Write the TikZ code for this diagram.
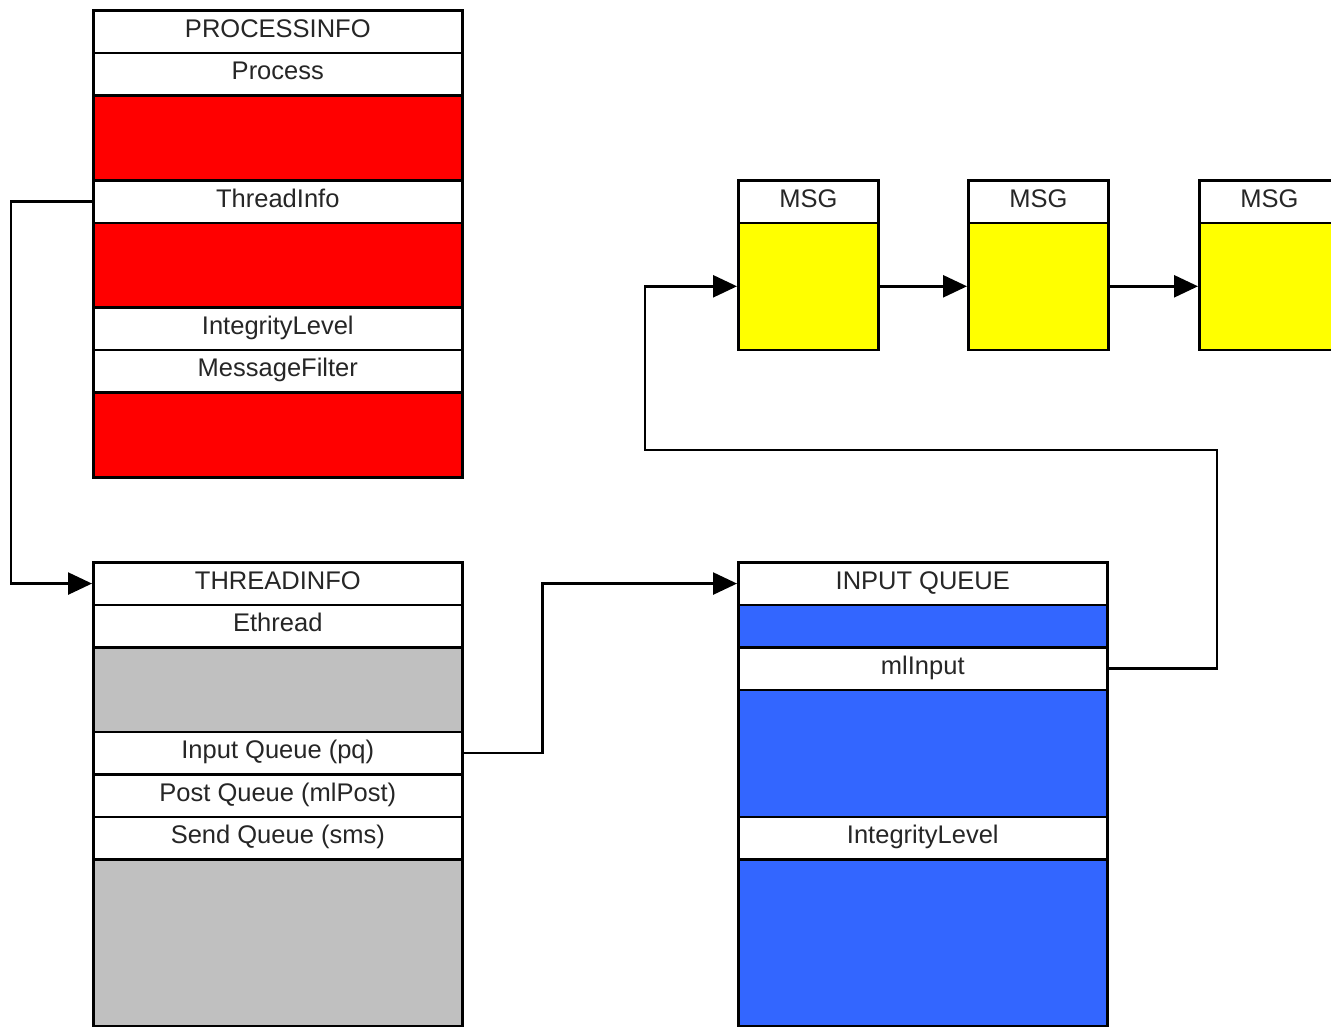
\documentclass[tikz,border=0pt]{standalone}
\usepackage{fontspec}
\setmainfont{Liberation Sans}
\usetikzlibrary{arrows.meta}
\definecolor{procred}{HTML}{FF0000}
\definecolor{thrgray}{HTML}{C0C0C0}
\definecolor{qblue}{HTML}{3366FF}
\definecolor{msgyellow}{HTML}{FFFF00}
\definecolor{txt}{HTML}{262626}
\begin{document}
\begin{tikzpicture}[x=1pt,y=-1pt,
  field/.style={draw=black, line width=2.6pt, fill=white, anchor=north west,
    inner sep=0pt, minimum width=#1, text=txt, text height=18pt, text depth=7pt,
    font=\fontsize{25.5}{30}\selectfont},
  field/.default=369pt,
  h1/.style={minimum height=42.5pt},
  link/.style={draw=black, line width=2.6pt},
  arr/.style={link, -{Triangle[length=24pt,width=22pt]}}
]
\clip (0,0) rectangle (1331,1026);
\fill[white] (0,0) rectangle (1331,1026);

% PROCESSINFO structure
\node[field, h1] (pi)  at (92,9)     {PROCESSINFO};
\node[field, h1] (pp)  at (92,51.5)  {Process};
\node[field, fill=procred, minimum height=85pt] (pr1) at (92,94) {};
\node[field, h1] (pti) at (92,179)   {ThreadInfo};
\node[field, fill=procred, minimum height=84.5pt] (pr2) at (92,221.5) {};
\node[field, h1] (pil) at (92,306)   {IntegrityLevel};
\node[field, h1] (pmf) at (92,348.5) {MessageFilter};
\node[field, fill=procred, minimum height=85pt] (pr3) at (92,391) {};

% THREADINFO structure
\node[field, h1] (th)  at (92,561)   {THREADINFO};
\node[field, h1] (te)  at (92,603.5) {Ethread};
\node[field, fill=thrgray, minimum height=84.5pt] (tg1) at (92,646) {};
\node[field, h1] (tpq) at (92,730.5) {Input Queue (pq)};
\node[field, h1] (tpo) at (92,773)   {Post Queue (mlPost)};
\node[field, h1] (tsq) at (92,815.5) {Send Queue (sms)};
\node[field, fill=thrgray, minimum height=167pt] (tg2) at (92,858) {};

% INPUT QUEUE structure
\node[field, h1] (iq)  at (737,561)   {INPUT QUEUE};
\node[field, fill=qblue, minimum height=42.5pt] (ib1) at (737,603.5) {};
\node[field, h1] (iml) at (737,646)   {mlInput};
\node[field, fill=qblue, minimum height=127pt] (ib2) at (737,688.5) {};
\node[field, h1] (iil) at (737,815.5) {IntegrityLevel};
\node[field, fill=qblue, minimum height=167pt] (ib3) at (737,858) {};

% message list
\node[field=140pt, h1] (m1) at (737,179)  {MSG};
\node[field=140pt, fill=msgyellow, minimum height=127pt] (m1b) at (737,221.5) {};
\node[field=140pt, h1] (m2) at (967,179)  {MSG};
\node[field=140pt, fill=msgyellow, minimum height=127pt] (m2b) at (967,221.5) {};
\node[field=140pt, h1] (m3) at (1198,179) {MSG};
\node[field=140pt, fill=msgyellow, minimum height=127pt] (m3b) at (1198,221.5) {};

% pointers
\coordinate (loopR) at (1217,450);
\coordinate (loopL) at (645,450);
\draw[arr] (pti.west) -- ++(-81,0) |- (th.west);
\draw[arr] (tpq.east) -- ++(79,0) |- (iq.west);
\draw[arr] (iml.east) -| (loopR) -- (loopL) |- (m1b.west);
\draw[arr] (m1b.east) -- (m2b.west);
\draw[arr] (m2b.east) -- (m3b.west);
\end{tikzpicture}
\end{document}
